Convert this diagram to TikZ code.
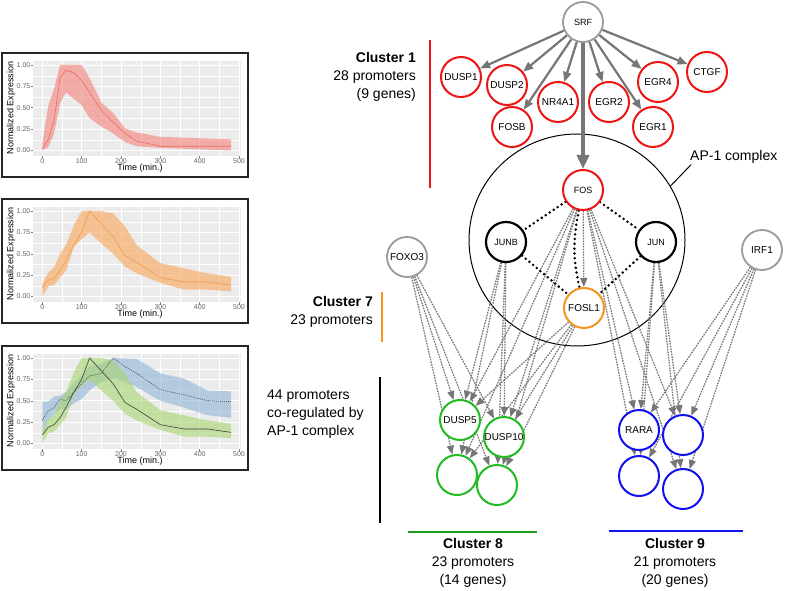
\documentclass[tikz,border=0pt]{standalone}
\usepackage{fontspec}
\setmainfont{Liberation Sans}
\usetikzlibrary{arrows.meta,shapes.geometric}
\pgfdeclarelayer{background}
\pgfdeclarelayer{backmost}
\pgfsetlayers{backmost,background,main}
\definecolor{nred}{HTML}{EE1515}
\definecolor{ngreen}{HTML}{22BB22}
\definecolor{nblue}{HTML}{1212EE}
\definecolor{norange}{HTML}{F7931E}
\definecolor{ngray}{HTML}{9A9A9A}
\definecolor{edgegray}{HTML}{767676}
\definecolor{panelgray}{HTML}{EBEBEB}
\definecolor{bandred}{HTML}{F48A84}
\definecolor{linered}{HTML}{EE6A62}
\definecolor{bandorange}{HTML}{F7B06C}
\definecolor{lineorange}{HTML}{F39A48}
\definecolor{bandgreen}{HTML}{A6D46E}
\definecolor{bandblue}{HTML}{8EB5D6}
\newcommand{\exprpanel}[2]{%
 \begin{scope}[shift={(0,#1)}]
  \draw[line width=1.8pt, draw=black!85] (2,0) rectangle (248,124);
  \fill[panelgray] (33,8) rectangle (241,103);
  \foreach \t in {50,150,250,350,450}
    \draw[white, line width=0.35pt] ({42.3+0.3935*\t},8) -- ({42.3+0.3935*\t},103);
  \foreach \v in {0.125,0.375,0.625,0.875}
    \draw[white, line width=0.35pt] (33,{97.5-85.5*\v}) -- (241,{97.5-85.5*\v});
  \foreach \t in {0,100,200,300,400,500} {
    \draw[white, line width=0.8pt] ({42.3+0.3935*\t},8) -- ({42.3+0.3935*\t},103);
    \draw[gray, line width=0.5pt] ({42.3+0.3935*\t},103) -- ({42.3+0.3935*\t},105.5);
    \node[ticklab, anchor=north] (#2x\t) at ({42.3+0.3935*\t},104.5) {\t};}
  \foreach \v/\l [count=\i] in {0/0.00,0.25/0.25,0.5/0.50,0.75/0.75,1/1.00} {
    \draw[white, line width=0.8pt] (33,{97.5-85.5*\v}) -- (241,{97.5-85.5*\v});
    \draw[gray, line width=0.5pt] (30.5,{97.5-85.5*\v}) -- (33,{97.5-85.5*\v});
    \node[ticklab, anchor=east] (#2y\i) at (31,{97.5-85.5*\v}) {\l};}
  \node[axlab, rotate=90] (#2yt) at (11,55) {Normalized Expression};
  \node[axlab] (#2xt) at (140,115) {Time (min.)};
 \end{scope}}
\begin{document}
\begin{tikzpicture}[x=1pt,y=-1pt,
  ticklab/.style={font=\fontsize{7}{8}\selectfont, text=black!60, inner sep=0.5pt},
  axlab/.style={font=\fontsize{9}{10}\selectfont, inner sep=0pt},
  lab/.style={font=\fontsize{14}{18}\selectfont, inner sep=0pt},
  gene/.style={circle, draw, fill=white, line width=2pt, minimum size=40pt, inner sep=0pt, font=\fontsize{10}{12}\selectfont},
  redg/.style={gene, draw=nred},
  greeng/.style={gene, draw=ngreen},
  blueg/.style={gene, draw=nblue},
  orangeg/.style={gene, draw=norange},
  grayg/.style={gene, draw=ngray, line width=1.8pt},
  blackg/.style={gene, draw=black, line width=2.2pt},
  smalltxt/.style={font=\fontsize{9}{11}\selectfont},
  srfarrow/.style={-{Triangle[length=10pt,width=8pt]}, draw=edgegray, fill=edgegray, line width=2.2pt},
  bigarrow/.style={-{Triangle[length=14pt,width=12pt]}, draw=edgegray, fill=edgegray, line width=4.5pt},
  regarrow/.style={-{Triangle[length=9pt,width=7pt]}, draw=edgegray, fill=edgegray, line width=1.3pt, dash pattern=on 1.4pt off 1.3pt},
  complexlink/.style={draw=black, line width=2.8pt, dash pattern=on 0pt off 4.8pt, line cap=round}
]
\useasboundingbox (0,0) rectangle (787,591);
\begin{pgfonlayer}{backmost}
\fill[white] (0,0) rectangle (787,591);
\end{pgfonlayer}

% ---------- expression plots ----------
\exprpanel{53}{pa}
\begin{scope}[shift={(42.3,150.5)}, x=0.3935pt, y=85.5pt]
  \fill[bandred, opacity=0.65] (0,0.08) -- (15,0.52) -- (30,0.72) -- (45,1.0) -- (100,1.0) -- (120,0.85) -- (150,0.56) -- (180,0.44) -- (210,0.26) -- (240,0.21) -- (300,0.16) -- (480,0.13)
    -- (480,0.0) -- (300,0.03) -- (240,0.05) -- (210,0.1) -- (180,0.2) -- (150,0.28) -- (120,0.38) -- (100,0.53) -- (60,0.68) -- (45,0.55) -- (30,0.2) -- (15,0.04) -- (0,0.0) -- cycle;
  \draw[linered, line width=0.6pt] (0,0.02) -- (15,0.13) -- (30,0.35) -- (45,0.85) -- (60,0.94) -- (80,0.91) -- (100,0.82) -- (120,0.68) -- (150,0.47) -- (180,0.33) -- (210,0.2) -- (240,0.11) -- (300,0.05) -- (480,0.05);
\end{scope}

\exprpanel{199}{pb}
\begin{scope}[shift={(42.3,296.5)}, x=0.3935pt, y=85.5pt]
  \fill[bandorange, opacity=0.7] (0,0.15) -- (15,0.28) -- (30,0.34) -- (45,0.5) -- (60,0.6) -- (80,0.83) -- (100,1.0) -- (150,1.0) -- (180,0.97) -- (210,0.82) -- (240,0.6) -- (300,0.39) -- (360,0.33) -- (420,0.27) -- (480,0.23)
    -- (480,0.06) -- (420,0.08) -- (360,0.08) -- (300,0.16) -- (240,0.27) -- (210,0.35) -- (180,0.5) -- (150,0.62) -- (120,0.75) -- (100,0.67) -- (80,0.58) -- (60,0.3) -- (45,0.22) -- (30,0.14) -- (15,0.12) -- (0,0.0) -- cycle;
  \draw[lineorange, line width=0.6pt] (0,0.1) -- (15,0.19) -- (30,0.22) -- (45,0.3) -- (60,0.42) -- (80,0.6) -- (100,0.75) -- (120,1.0) -- (150,0.85) -- (180,0.7) -- (210,0.48) -- (240,0.4) -- (300,0.22) -- (360,0.17) -- (420,0.17) -- (480,0.13);
\end{scope}

\exprpanel{346}{pc}
\begin{scope}[shift={(42.3,443.5)}, x=0.3935pt, y=85.5pt]
  \fill[bandblue, opacity=0.6] (0,0.49) -- (15,0.49) -- (30,0.55) -- (45,0.56) -- (60,0.6) -- (80,0.7) -- (100,0.8) -- (120,0.9) -- (150,0.93) -- (180,1.0) -- (240,0.99) -- (300,0.82) -- (360,0.76) -- (420,0.62) -- (480,0.61)
    -- (480,0.3) -- (420,0.33) -- (360,0.42) -- (300,0.5) -- (240,0.66) -- (210,0.72) -- (180,0.76) -- (150,0.72) -- (120,0.62) -- (100,0.52) -- (80,0.47) -- (60,0.4) -- (45,0.4) -- (30,0.35) -- (15,0.27) -- (0,0.13) -- cycle;
  \fill[bandgreen, opacity=0.6] (0,0.15) -- (15,0.28) -- (30,0.34) -- (45,0.5) -- (60,0.6) -- (80,0.83) -- (100,1.0) -- (150,1.0) -- (180,0.97) -- (210,0.82) -- (240,0.6) -- (300,0.39) -- (360,0.33) -- (420,0.27) -- (480,0.23)
    -- (480,0.06) -- (420,0.08) -- (360,0.08) -- (300,0.16) -- (240,0.27) -- (210,0.35) -- (180,0.5) -- (150,0.62) -- (120,0.75) -- (100,0.67) -- (80,0.58) -- (60,0.3) -- (45,0.22) -- (30,0.14) -- (15,0.12) -- (0,0.0) -- cycle;
  \draw[black!70, line width=0.6pt, dash pattern=on 1pt off 1pt] (0,0.27) -- (15,0.38) -- (30,0.42) -- (45,0.52) -- (60,0.5) -- (80,0.6) -- (100,0.7) -- (120,0.79) -- (150,0.82) -- (180,1.0) -- (210,0.9) -- (240,0.82) -- (300,0.63) -- (360,0.57) -- (420,0.5) -- (480,0.49);
  \draw[black!75, line width=0.6pt] (0,0.1) -- (15,0.19) -- (30,0.22) -- (45,0.3) -- (60,0.42) -- (80,0.6) -- (100,0.75) -- (120,1.0) -- (150,0.85) -- (180,0.7) -- (210,0.48) -- (240,0.4) -- (300,0.22) -- (360,0.17) -- (420,0.17) -- (480,0.13);
\end{scope}

% ---------- labels and bars ----------
\node[lab, align=right, anchor=east] (c1lab) at (416,77) {\textbf{Cluster 1}\\28 promoters\\(9 genes)};
\coordinate (r1a) at (430,40); \coordinate (r1b) at (430,188);
\draw[nred, line width=1.2pt] (r1a) -- (r1b);
\node[lab, align=right, anchor=east] (c7lab) at (373,312) {\textbf{Cluster 7}\\23 promoters};
\coordinate (o1a) at (382,292); \coordinate (o1b) at (382,342);
\draw[norange, line width=1.2pt] (o1a) -- (o1b);
\node[lab, align=left, anchor=west] (colab) at (267,414) {44 promoters\\co-regulated by\\AP-1 complex};
\coordinate (k1a) at (380,377); \coordinate (k1b) at (380,523);
\draw[black, line width=1.2pt] (k1a) -- (k1b);
\coordinate (g8a) at (408,532); \coordinate (g8b) at (537,532);
\draw[ngreen!85!black, line width=1.4pt] (g8a) -- (g8b);
\coordinate (b9a) at (609,531); \coordinate (b9b) at (743,531);
\draw[nblue, line width=1.4pt] (b9a) -- (b9b);
\node[lab, align=center] (c8lab) at (473,563) {\textbf{Cluster 8}\\23 promoters\\(14 genes)};
\node[lab, align=center] (c9lab) at (675,563) {\textbf{Cluster 9}\\21 promoters\\(20 genes)};
\node[lab, anchor=west] (aplab) at (690,157) {AP-1 complex};

% ---------- gene nodes ----------
\node[grayg, smalltxt] (SRF) at (583,22) {SRF};
\node[redg] (DUSP1) at (461,77) {DUSP1};
\node[redg] (DUSP2) at (507,85) {DUSP2};
\node[redg] (NR4A1) at (558,102) {NR4A1};
\node[redg] (FOSB) at (512,127) {FOSB};
\node[redg] (EGR2) at (609,102) {EGR2};
\node[redg] (EGR4) at (658,82) {EGR4};
\node[redg] (EGR1) at (653,127) {EGR1};
\node[redg] (CTGF) at (707,72) {CTGF};
\node[redg, smalltxt] (FOS) at (583,190) {FOS};
\node[blackg, smalltxt] (JUNB) at (506,242) {JUNB};
\node[blackg, smalltxt] (JUN) at (656,242) {JUN};
\node[orangeg] (FOSL1) at (584,308) {FOSL1};
\node[grayg] (FOXO3) at (407,257) {FOXO3};
\node[grayg] (IRF1) at (762,250) {IRF1};
\node[greeng] (g1) at (460,420) {DUSP5};
\node[greeng] (g2) at (504,437) {DUSP10};
\node[greeng] (g3) at (457,475) {};
\node[greeng] (g4) at (497,485) {};
\node[blueg] (b1) at (639,430) {RARA};
\node[blueg] (b2) at (683,435) {};
\node[blueg] (b3) at (639,476) {};
\node[blueg] (b4) at (683,489) {};

% ---------- edges ----------
\begin{pgfonlayer}{background}
  \node[ellipse, draw, line width=1pt, minimum width=216pt, minimum height=212pt, inner sep=0pt] (ap1) at (577,240) {};
  \draw[line width=1pt] (ap1.30) -- ([xshift=1pt,yshift=-1pt]aplab.south west);
  \foreach \s/\t in {FOXO3/g1,FOXO3/g2,FOXO3/g3,FOXO3/g4,
                     JUNB/g1,JUNB/g2,JUNB/g3,JUNB/g4,
                     FOS/g1,FOS/g2,FOS/g3,FOS/g4,FOS/b1,FOS/b2,FOS/b3,FOS/b4,
                     FOSL1/g1,FOSL1/g2,FOSL1/g3,FOSL1/g4,
                     JUN/b1,JUN/b2,JUN/b3,JUN/b4,
                     IRF1/b1,IRF1/b2,IRF1/b3,IRF1/b4}
    \draw[regarrow] (\s) -- (\t);
  \draw[regarrow] (FOS) -- (FOSL1);
  \draw[complexlink] (FOS) -- (JUNB);
  \draw[complexlink] (FOS) -- (JUN);
  \draw[complexlink] (JUNB) -- (FOSL1);
  \draw[complexlink] (JUN) -- (FOSL1);
  \draw[complexlink] (FOS) to[bend right=12] (FOSL1);
  \foreach \t in {DUSP1,DUSP2,FOSB,NR4A1,EGR2,EGR1,EGR4,CTGF}
    \draw[srfarrow] (SRF) -- (\t);
  \draw[bigarrow] (SRF) -- (FOS);
\end{pgfonlayer}
\end{tikzpicture}
\end{document}
